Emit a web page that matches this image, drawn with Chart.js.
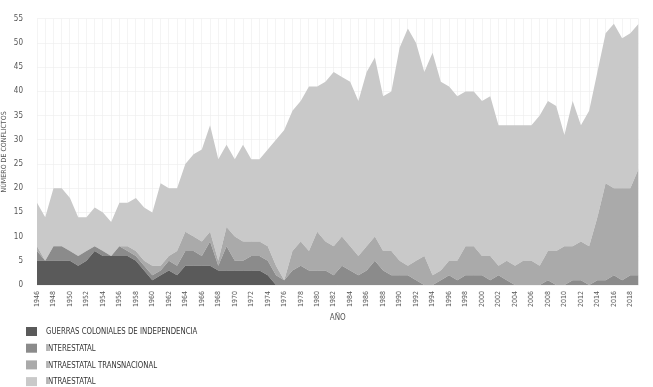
<!DOCTYPE html>
<html>
<head>
<meta charset="utf-8">
<script src="https://cdn.jsdelivr.net/npm/chart.js@4.4.1/dist/chart.umd.min.js"></script>
<style>
  html, body { margin: 0; padding: 0; background: #fff; }
  #wrap { width: 653px; height: 387px; }
</style>
</head>
<body>
<div id="wrap"><canvas id="conflicts-chart"></canvas></div>
<script>
const FONT = "'Liberation Sans Narrow', 'DejaVu Sans Condensed', 'Arial Narrow', sans-serif";

const years = [];
for (let y = 1946; y <= 2019; y++) years.push(String(y));

const seriesLabels = [
  'GUERRAS COLONIALES DE INDEPENDENCIA',
  'INTERESTATAL',
  'INTRAESTATAL TRANSNACIONAL',
  'INTRAESTATAL'
];
const seriesColors = ['#5a5a5a', '#8b8b8b', '#aaaaaa', '#c9c9c9'];

// 1946 .. 2019
const colonial = [
  5, 5, 5, 5, 5, 4, 5, 7, 6, 6, 6, 6, 5, 3, 1, 2, 3, 2, 4, 4,
  4, 4, 3, 3, 3, 3, 3, 3, 2, 0, 0, 0, 0, 0, 0, 0, 0, 0, 0, 0,
  0, 0, 0, 0, 0, 0, 0, 0, 0, 0, 0, 0, 0, 0, 0, 0, 0, 0, 0, 0,
  0, 0, 0, 0, 0, 0, 0, 0, 0, 0, 0, 0, 0, 0
];
const interstate = [
  2, 0, 3, 3, 2, 2, 2, 1, 1, 0, 2, 1, 1, 1, 1, 1, 2, 2, 3, 3,
  2, 5, 1, 5, 2, 2, 3, 3, 3, 2, 1, 3, 4, 3, 3, 3, 2, 4, 3, 2,
  3, 5, 3, 2, 2, 2, 1, 0, 0, 1, 2, 1, 2, 2, 2, 1, 2, 1, 0, 0,
  0, 0, 1, 0, 0, 1, 1, 0, 1, 1, 2, 1, 2, 2
];
const transnational = [
  1, 0, 0, 0, 0, 0, 0, 0, 0, 0, 0, 1, 1, 1, 2, 1, 1, 3, 4, 3,
  3, 2, 1, 4, 5, 4, 3, 3, 3, 2, 0, 4, 5, 4, 8, 6, 6, 6, 5, 4,
  5, 5, 4, 5, 3, 2, 4, 6, 2, 2, 3, 4, 6, 6, 4, 5, 2, 4, 4, 5,
  5, 4, 6, 7, 8, 7, 8, 8, 13, 20, 18, 19, 18, 22
];
const intrastate = [
  9, 9, 12, 12, 11, 8, 7, 8, 8, 7, 9, 9, 11, 11, 11, 17, 14, 13, 14, 17,
  19, 22, 21, 17, 16, 20, 17, 17, 20, 26, 31, 29, 29, 34, 30, 33, 36, 33, 34, 32,
  36, 37, 32, 33, 44, 49, 45, 38, 46, 39, 36, 34, 32, 32, 32, 33, 29, 28, 29, 28,
  28, 31, 31, 30, 23, 30, 24, 28, 30, 31, 34, 31, 32, 30
];

const yTicks = [0, 5, 10, 15, 20, 25, 30, 35, 40, 45, 50, 55];

const gridColor = 'rgba(238,238,238,0.65)';

// legend drawn as a vertical list under the axis
const legendPlugin = {
  id: 'stackLegend',
  afterDraw(chart) {
    const ctx = chart.ctx;
    ctx.save();
    ctx.font = '8.5px ' + FONT;
    ctx.textBaseline = 'middle';
    chart.data.datasets.forEach((ds, i) => {
      const y = 327 + i * 16.7;
      ctx.fillStyle = ds.backgroundColor;
      ctx.fillRect(26, y, 11, 9);
      ctx.fillStyle = '#333';
      const w = ctx.measureText(ds.label).width * 0.91;
      ctx.fillText(ds.label, 46, y + 5, w);
    });
    ctx.restore();
  }
};

const seriesData = [colonial, interstate, transnational, intrastate];

new Chart(document.getElementById('conflicts-chart').getContext('2d'), {
  type: 'line',
  data: {
    labels: years,
    datasets: seriesLabels.map((label, i) => ({
      label: label,
      data: seriesData[i],
      backgroundColor: seriesColors[i],
      borderWidth: 0,
      pointRadius: 0,
      tension: 0,
      fill: i === 0 ? 'origin' : '-1'
    }))
  },
  options: {
    responsive: true,
    maintainAspectRatio: false,
    animation: false,
    layout: { padding: { top: 5, right: 10, bottom: 62, left: 0 } },
    plugins: {
      legend: { display: false },
      tooltip: { enabled: false }
    },
    scales: {
      x: {
        z: 1,
        grid: { color: gridColor, drawTicks: false },
        border: { display: false },
        ticks: {
          autoSkip: false,
          minRotation: 90,
          maxRotation: 90,
          padding: 6,
          color: '#555',
          font: { family: FONT, size: 7 },
          callback: (v, i) => (i % 2 === 0 ? years[i] : '')
        },
        title: {
          display: true,
          text: 'AÑO',
          color: '#555',
          font: { family: FONT, size: 8 },
          padding: { top: 0, bottom: 2 }
        },
        afterFit: (s) => { s.height = 40; }
      },
      y: {
        z: 1,
        stacked: true,
        min: 0,
        max: 55,
        grid: { color: gridColor, drawTicks: false },
        border: { display: false },
        afterBuildTicks: (s) => { s.ticks = yTicks.map(v => ({ value: v })); },
        ticks: {
          padding: 14,
          color: '#555',
          font: { family: FONT, size: 8 }
        },
        title: {
          display: true,
          text: 'NÚMERO DE CONFLICTOS',
          color: '#555',
          font: { family: FONT, size: 7 },
          padding: { top: 0, bottom: 0 }
        },
        afterFit: (s) => { s.width = 37; }
      }
    }
  },
  plugins: [legendPlugin]
});
</script>
</body>
</html>
